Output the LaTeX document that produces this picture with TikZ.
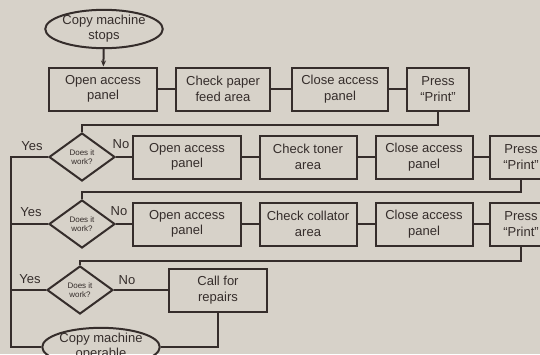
\documentclass[tikz,border=0pt]{standalone}
\usepackage{fontspec}
\setmainfont{Liberation Sans}
\usetikzlibrary{shapes.geometric,arrows.meta}
\definecolor{paper}{HTML}{D7D2C9}
\definecolor{ink}{HTML}{352D2B}

\begin{document}
\begin{tikzpicture}[x=1pt,y=-1pt,line width=2pt,color=ink,
  box/.style={draw, rectangle, align=center, minimum height=43pt, inner sep=2pt, font=\fontsize{13}{15.5}\selectfont},
  test/.style={draw, diamond, aspect=1.375, minimum width=66pt, minimum height=48pt, inner sep=0pt, align=center, font=\fontsize{8}{9.5}\selectfont},
  term/.style={draw, ellipse, minimum width=108pt, minimum height=38pt, inner sep=0pt, align=center, font=\fontsize{13}{15}\selectfont},
  tag/.style={font=\fontsize{13}{15}\selectfont}
  ]
  \useasboundingbox (0,0) rectangle (540,354);
  \clip (0,0) rectangle (540,354);
  \fill[paper] (0,0) rectangle (540,354);

  \node[term] (stop) at (104,29) {Copy machine\\stops};
  \node[box,minimum width=108pt] (o1) at (103,89) {Open access\\panel};
  \node[box,minimum width=94pt] (c1) at (223,89) {Check paper\\feed area};
  \node[box,minimum width=96pt] (s1) at (340,89) {Close access\\panel};
  \node[box,minimum width=62pt] (p1) at (438,89) {Press\\“Print”};

  \node[test] (d1) at (82,157) {Does it\\work?};
  \node[box,minimum width=108pt] (o2) at (187,157) {Open access\\panel};
  \node[box,minimum width=97pt] (c2) at (308,157) {Check toner\\area};
  \node[box,minimum width=97pt] (s2) at (424,157) {Close access\\panel};
  \node[box,minimum width=62pt] (p2) at (521,157) {Press\\“Print”};

  \node[test] (d2) at (82,224) {Does it\\work?};
  \node[box,minimum width=108pt] (o3) at (187,224) {Open access\\panel};
  \node[box,minimum width=97pt] (c3) at (308,224) {Check collator\\area};
  \node[box,minimum width=97pt] (s3) at (424,224) {Close access\\panel};
  \node[box,minimum width=62pt] (p3) at (521,224) {Press\\“Print”};

  \node[test] (d3) at (80,290) {Does it\\work?};
  \node[box,minimum width=98pt] (r) at (218,290) {Call for\\repairs};
  \node[term] (ok) at (101,347) {Copy machine\\operable};

  \node[tag] (y1) at (32,146) {Yes};
  \node[tag] (n1) at (121,144) {No};
  \node[tag] (y2) at (31,212) {Yes};
  \node[tag] (n2) at (119,211) {No};
  \node[tag] (y3) at (30,279) {Yes};
  \node[tag] (n3) at (127,280) {No};

  \draw[-{Stealth[length=6pt,width=5pt]}] (stop) -- (o1);
  \draw (o1) -- (c1) (c1) -- (s1) (s1) -- (p1);
  \draw (p1.south) -- ++(0,13) -| (d1.north);
  \draw (d1) -- (o2) (o2) -- (c2) (c2) -- (s2) (s2) -- (p2);
  \draw (p2.south) -- ++(0,12) -| (d2.north);
  \draw (d2) -- (o3) (o3) -- (c3) (c3) -- (s3) (s3) -- (p3);
  \draw (p3.south) -- ++(0,14) -| (d3.north);
  \draw (d3) -- (r);

  \coordinate (rail) at (11,347);
  \draw (d1.west) -| (rail) -- (ok.west);
  \draw (d2.west) -- (d2.west -| rail);
  \draw (d3.west) -- (d3.west -| rail);
  \draw (r.south) |- (ok.east);
\end{tikzpicture}
\end{document}
